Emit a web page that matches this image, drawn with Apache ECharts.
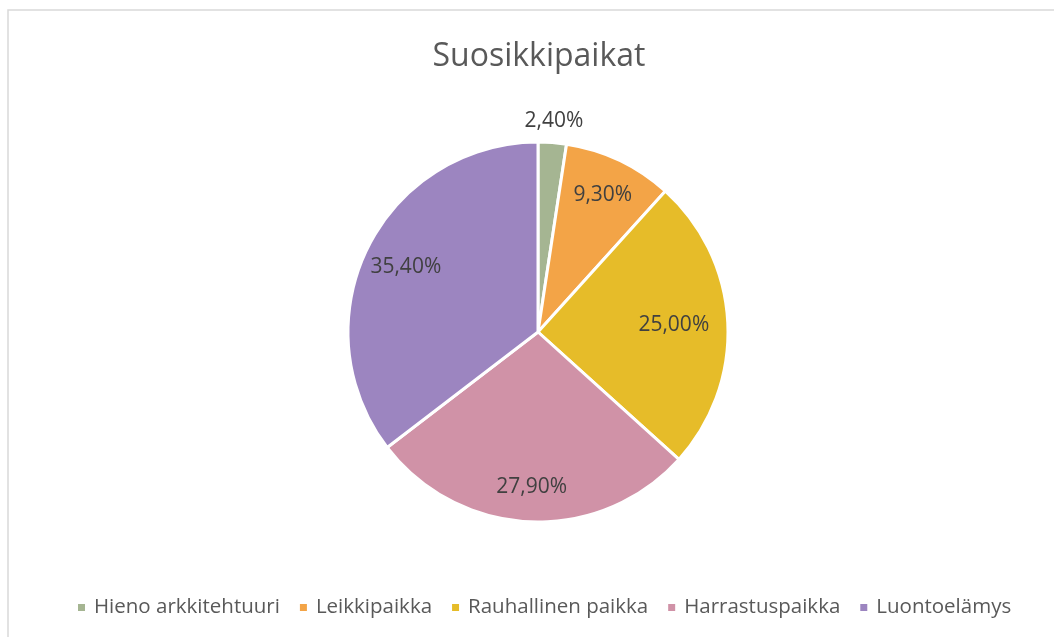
<!DOCTYPE html>
<html>
<head>
<meta charset="utf-8">
<script src="https://cdn.jsdelivr.net/npm/echarts@6/dist/echarts.min.js"></script>
<style>html,body{margin:0;padding:0;background:#fff;}#c{width:1054px;height:637px;}</style>
</head>
<body>
<div id="c"></div>
<script>
const categories = ['Hieno arkkitehtuuri', 'Leikkipaikka', 'Rauhallinen paikka', 'Harrastuspaikka', 'Luontoelämys'];
const values = [2.4, 9.3, 25.0, 27.9, 35.4];

const colors = ['#A5B592', '#F3A447', '#E6BC29', '#D092A7', '#9C85C0'];
const fmt = v => v.toFixed(2).replace('.', ',') + '%';
const FONT = '"Open Sans", sans-serif';
const labelStyle = { color: '#404040', fontSize: 21, fontFamily: FONT };

const chart = echarts.init(document.getElementById('c'), null, { renderer: 'canvas' });
const center = [538, 332];
const R = 190;
// label ring (as a fraction of radius) per slice, mimicking the "best fit" placement
const labelRing = [1.1, 0.78, 0.7, 0.8, 0.76];

const hiddenItem = { color: 'rgba(0,0,0,0)', borderWidth: 0 };
function labelSeries(ring) {
  const half = 0.2;
  return {
    type: 'pie', radius: [R * (ring - half), R * (ring + half)], center: center, startAngle: 90, clockwise: true,
    silent: true, legendHoverLink: false, emphasis: { disabled: true }, tooltip: { show: false },
    itemStyle: hiddenItem, labelLine: { show: false }, z: 5,
    data: categories.map((n, i) => ({
      name: n, value: values[i],
      label: Object.assign({ show: labelRing[i] === ring, position: 'inner', formatter: fmt(values[i]) }, labelStyle)
    }))
  };
}
const rings = [...new Set(labelRing)];

chart.setOption({
  animation: false,
  title: {
    text: 'Suosikkipaikat', left: 534, textAlign: 'center', top: 36,
    textStyle: { color: '#595959', fontSize: 32, fontWeight: 'normal', fontFamily: FONT }
  },
  legend: {
    data: categories, bottom: 14, left: 71, itemWidth: 9, itemHeight: 9, itemGap: 18,
    icon: 'rect', textStyle: { color: '#595959', fontSize: 20.5, fontFamily: FONT, padding: [0, 0, 0, 3] }
  },
  graphic: [{
    type: 'rect', shape: { x: 8, y: 10, width: 1100, height: 700 },
    style: { fill: 'none', stroke: '#D9D9D9', lineWidth: 1.5 }, silent: true, z: -10
  }],
  series: [
    {
      type: 'pie', radius: R, center: center, startAngle: 90, clockwise: true,
      label: { show: false }, labelLine: { show: false },
      itemStyle: { borderColor: '#fff', borderWidth: 3 },
      emphasis: { scale: false },
      data: categories.map((n, i) => ({ name: n, value: values[i], itemStyle: { color: colors[i] } }))
    }
  ].concat(rings.map(labelSeries))
});
</script>
</body>
</html>
